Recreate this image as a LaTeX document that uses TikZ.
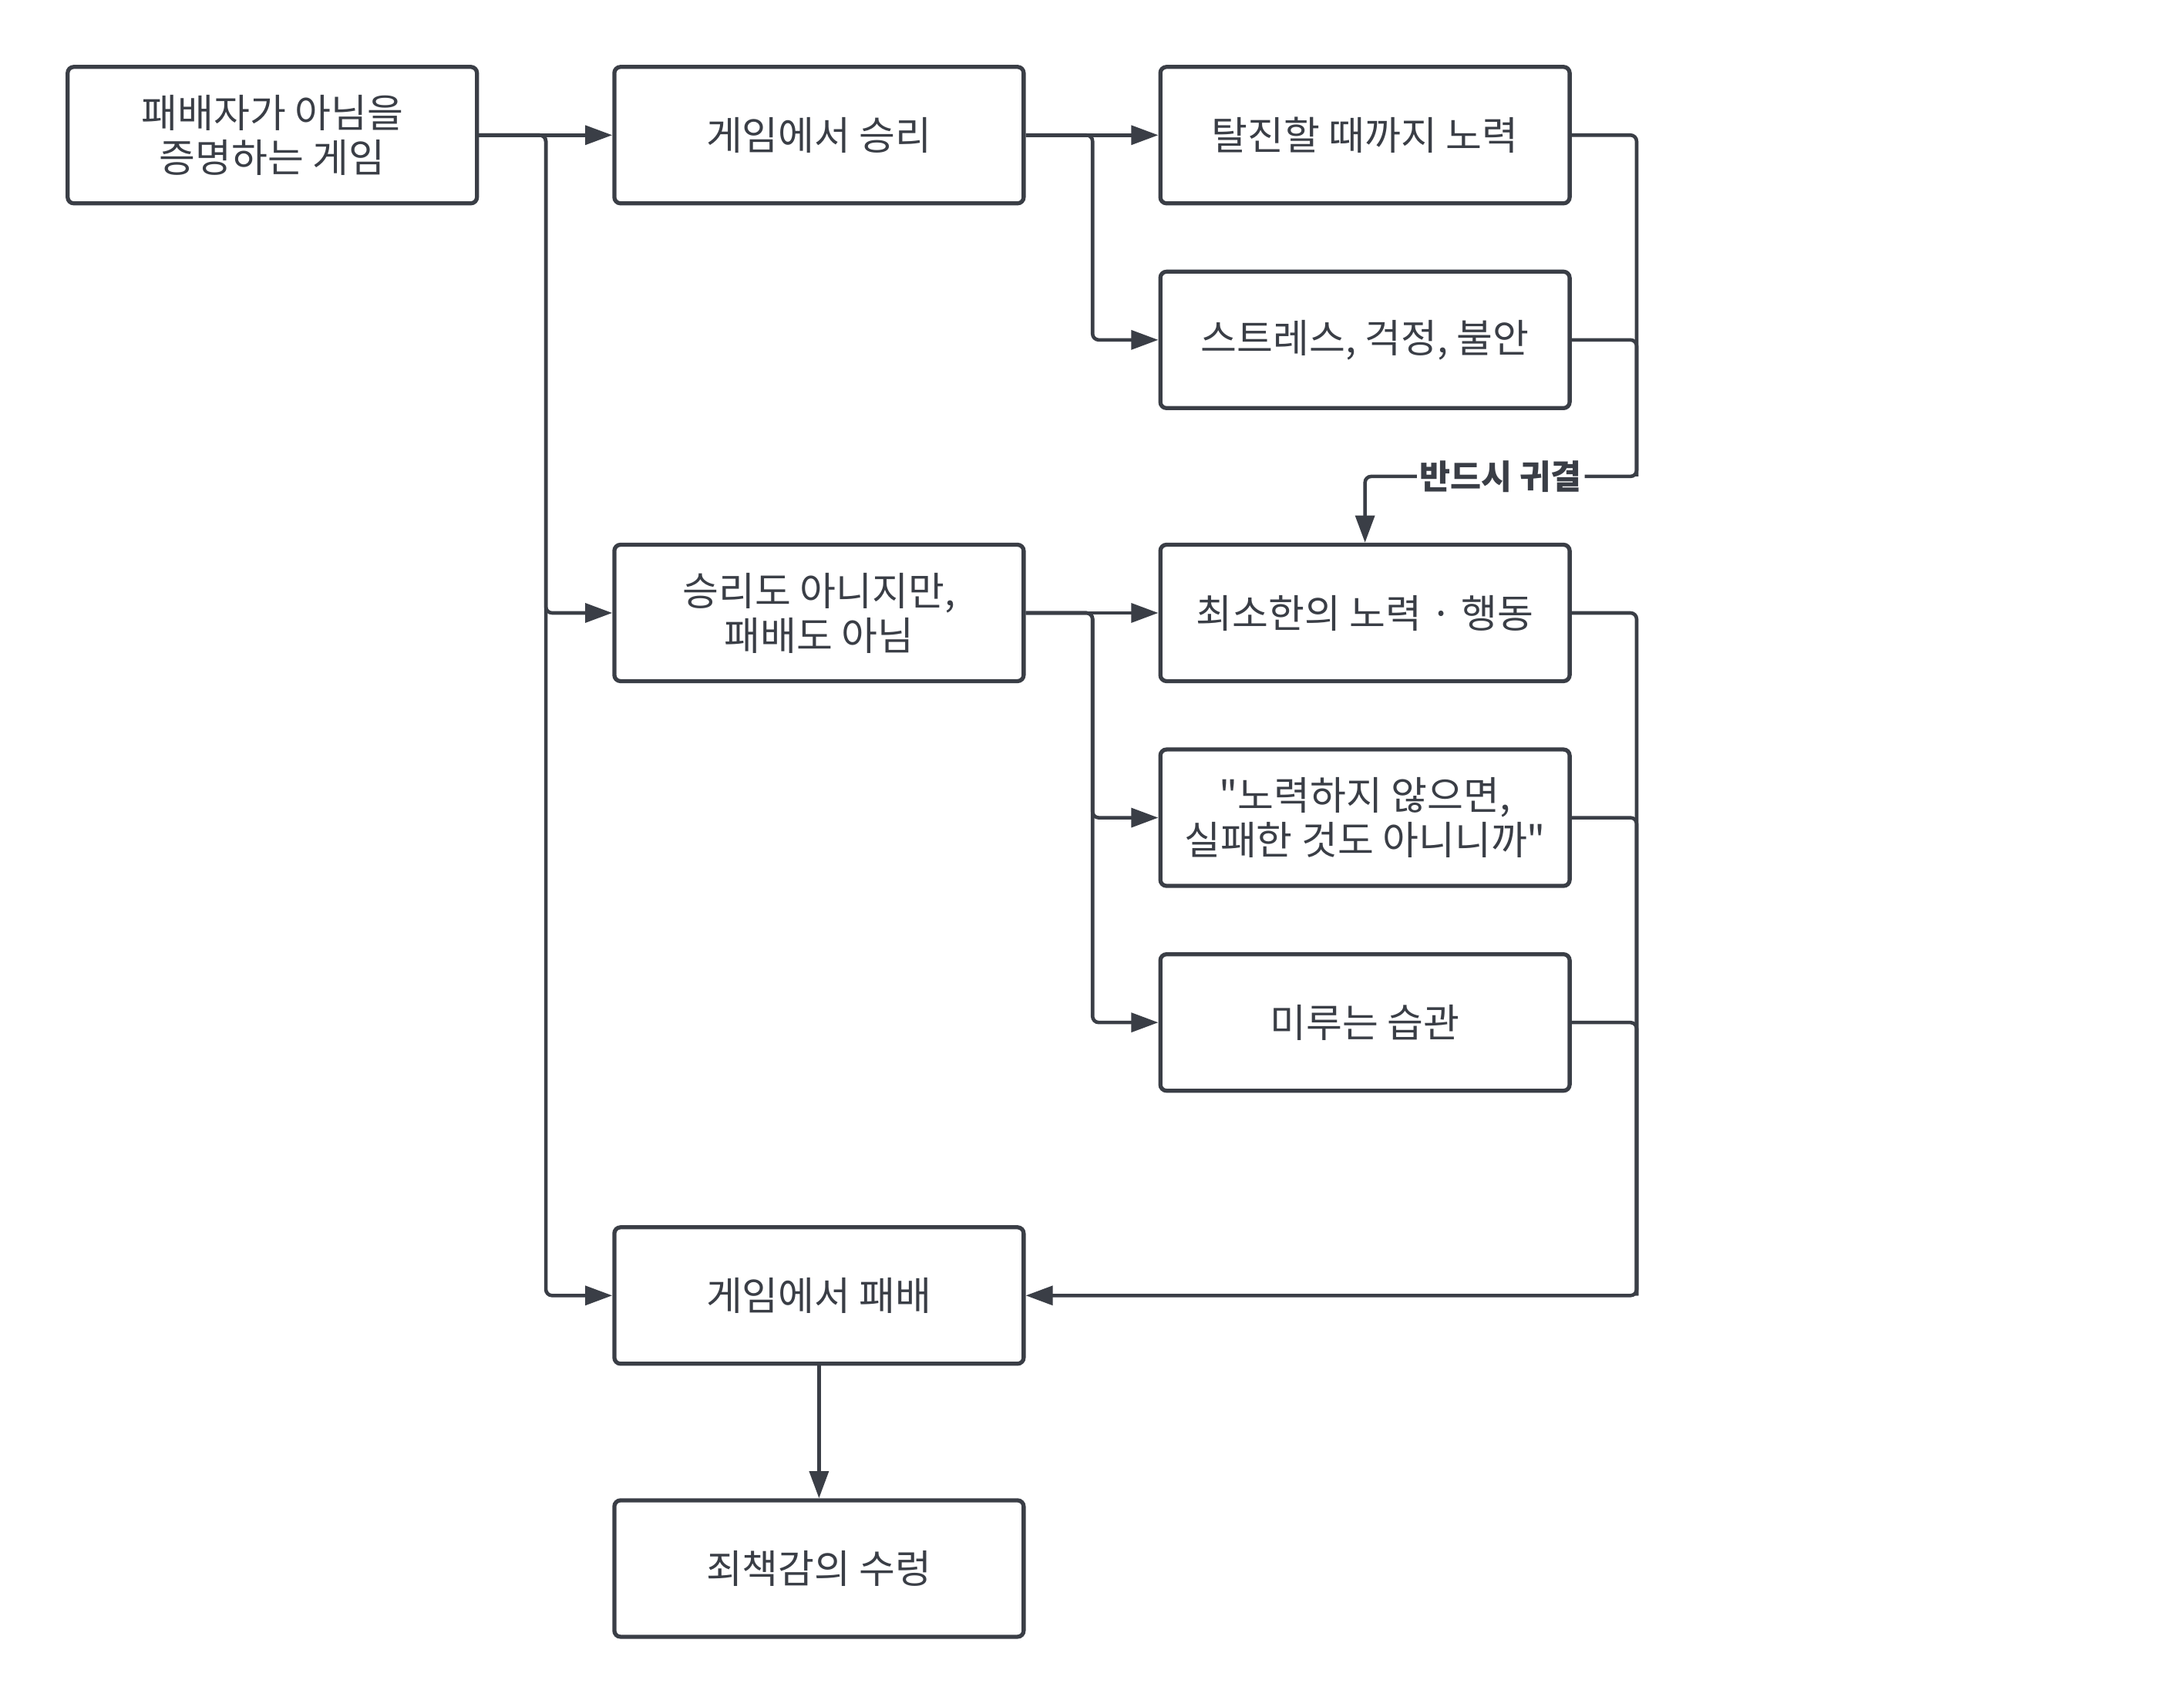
\documentclass[tikz,border=0pt]{standalone}
\usepackage{fontspec}
\setmainfont{Noto Sans CJK KR}[Ligatures=TeXOff]
\usepackage{xcolor}
\usetikzlibrary{positioning, arrows.meta, calc}

\definecolor{inkgray}{RGB}{58,62,70}

\begin{document}
\begin{tikzpicture}[
  x=0.1807mm, y=-0.1807mm,
  >={Triangle[length=10pt, width=7pt]},
  every node/.style={font=\fontsize{14.5}{16.5}\selectfont, text=inkgray},
  stage/.style={draw=inkgray, line width=1.5pt, rounded corners=0.8mm,
    minimum width=53.1mm, minimum height=17.7mm, align=center, inner sep=2pt},
  flow/.style={->, draw=inkgray, line width=1.3pt, rounded corners=0.8mm},
  tag/.style={fill=white, inner sep=1pt, font=\fontsize{12.4}{14}\selectfont\bfseries}
]
\useasboundingbox (0,0) rectangle (1568,1225.3);

% Left column: starting point
\node[stage] (start) at (195.5, 97) {패배자가 아님을\\증명하는 게임};

% Middle column: outcomes
\node[stage] (win)     at (588, 97)   {게임에서 승리};
\node[stage] (neither) at (588, 440)  {승리도 아니지만,\\패배도 아님};
\node[stage] (lose)    at (588, 930)  {게임에서 패배};
\node[stage] (guilt)   at (588, 1126) {죄책감의 수렁};

% Right column: consequences
\node[stage] (exhaust) at (980, 97)  {탈진할 때까지 노력};
\node[stage] (stress)  at (980, 244) {스트레스, 걱정, 불안};
\node[stage] (minimal) at (980, 440) {최소한의 노력 · 행동};
\node[stage] (excuse)  at (980, 587) {"노력하지 않으면,\\실패한 것도 아니니까"};
\node[stage] (delay)   at (980, 734) {미루는 습관};

% Bus turning points
\coordinate (upbus)  at (1175, 342);
\coordinate (lowbus) at (1175, 930);

% Start -> outcomes
\draw[flow] (start.east) -- (win.west);
\draw[flow] (start.east) -- ++(48,0) |- (neither.west);
\draw[flow] (start.east) -- ++(48,0) |- (lose.west);

% Win -> consequences
\draw[flow] (win.east) -- (exhaust.west);
\draw[flow] (win.east) -- ++(48,0) |- (stress.west);

% Neither -> consequences
\draw[flow] (neither.east) -- (minimal.west);
\draw[flow] (neither.east) -- ++(48,0) |- (excuse.west);
\draw[flow] (neither.east) -- ++(48,0) |- (delay.west);

% Win branch ends in minimal effort
\draw[flow, -] (stress.east) -| (upbus);
\draw[flow] (exhaust.east) -| (upbus) -| node[tag, pos=0.25] {반드시 귀결} (minimal.north);

% Neither branch ends in defeat
\draw[flow, -] (excuse.east) -| (lowbus);
\draw[flow, -] (delay.east) -| (lowbus);
\draw[flow] (minimal.east) -| (lowbus) -- (lose.east);

% Defeat -> guilt
\draw[flow] (lose.south) -- (guilt.north);

\end{tikzpicture}
\end{document}
